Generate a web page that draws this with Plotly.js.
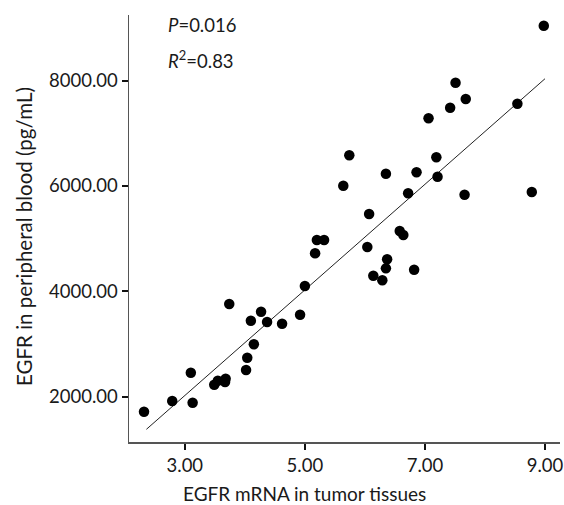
<!DOCTYPE html>
<html>
<head>
<meta charset="utf-8">
<script src="https://cdn.plot.ly/plotly-3.0.1.min.js"></script>
<style>html,body{margin:0;padding:0;background:#fff;}#chart{width:564px;height:505px;}</style>
</head>
<body>
<div id="chart"></div>
<script>
const mrna = [2.32, 2.79, 3.10, 3.13, 3.49, 3.55, 3.67, 3.68, 3.74, 4.02, 4.04, 4.10, 4.15, 4.27, 4.37, 4.62, 4.92, 5.00, 5.17, 5.20, 5.32,
  6.07, 6.04, 6.58, 6.64, 6.37, 6.35, 6.14, 6.29, 6.82,
  8.98, 7.51, 7.68, 7.42, 7.06, 8.54, 5.74, 5.64, 6.35, 6.86, 7.19, 7.21, 6.72, 7.66, 8.78];
const blood = [1711, 1915, 2452, 1882, 2224, 2300, 2275, 2338, 3757, 2503, 2737, 3440, 2991, 3611, 3415, 3383, 3554, 4098, 4719, 4972, 4972,
  5466, 4839, 5143, 5067, 4605, 4434, 4294, 4207, 4408,
  9041, 7959, 7650, 7484, 7283, 7560, 6580, 6003, 6231, 6258, 6542, 6174, 5859, 5832, 5883];
const fitX = [2.36, 9.00];
const fitY = [1377, 8035];
const xTicks = [3, 5, 7, 9];
const xTickText = ['3.00', '5.00', '7.00', '9.00'];
const yTicks = [2000, 4000, 6000, 8000];
const yTickText = ['2000.00', '4000.00', '6000.00', '8000.00'];
const xTitle = 'EGFR mRNA in tumor tissues';
const yTitle = 'EGFR in peripheral blood (pg/mL)';

const font = 'Lato, "Open Sans", sans-serif';
const ink = '#1a1a1a';
const data = [
  {x: fitX, y: fitY, mode: 'lines', type: 'scatter', line: {color: '#222', width: 1}, hoverinfo: 'skip'},
  {x: mrna, y: blood, mode: 'markers', type: 'scatter', marker: {color: '#000', size: 10.5}}
];
const layout = {
  width: 564, height: 505,
  margin: {l: 129, r: 4, t: 15, b: 63},
  paper_bgcolor: '#fff', plot_bgcolor: '#fff',
  showlegend: false,
  font: {family: font, color: ink, size: 16},
  xaxis: {
    range: [2.07, 9.25], tickvals: xTicks, ticktext: xTickText,
    showgrid: false, zeroline: false, showline: true, linecolor: '#555', linewidth: 1.5,
    ticks: 'outside', ticklen: 6, tickwidth: 2, tickcolor: '#111',
    tickfont: {family: font, size: 18.5, color: ink}
  },
  yaxis: {
    range: [1136, 9245], tickvals: yTicks, ticktext: yTickText,
    showgrid: false, zeroline: false, showline: true, linecolor: '#555', linewidth: 1.5,
    ticks: 'outside', ticklen: 6, tickwidth: 2, tickcolor: '#111',
    tickfont: {family: font, size: 18.5, color: ink}
  },
  annotations: [
    {xref: 'paper', yref: 'paper', x: 0.085, y: 0.976, xanchor: 'left', yanchor: 'middle', showarrow: false,
     text: '<i>P</i>=0.016', font: {family: font, size: 18.5, color: ink}},
    {xref: 'paper', yref: 'paper', x: 0.085, y: 0.895, xanchor: 'left', yanchor: 'middle', showarrow: false,
     text: '<i>R</i><sup>2</sup>=0.83', font: {family: font, size: 18.5, color: ink}},
    {xref: 'paper', yref: 'paper', x: 0.408, y: 0, yshift: -51, xanchor: 'center', yanchor: 'middle', showarrow: false,
     text: xTitle, font: {family: font, size: 19, color: ink}},
    {xref: 'paper', yref: 'paper', x: 0, xshift: -105, y: 0.48, xanchor: 'center', yanchor: 'middle', showarrow: false,
     textangle: -90, text: yTitle, font: {family: font, size: 20.5, color: ink}}
  ]
};
Plotly.newPlot('chart', data, layout, {displayModeBar: false, staticPlot: true});
</script>
</body>
</html>
